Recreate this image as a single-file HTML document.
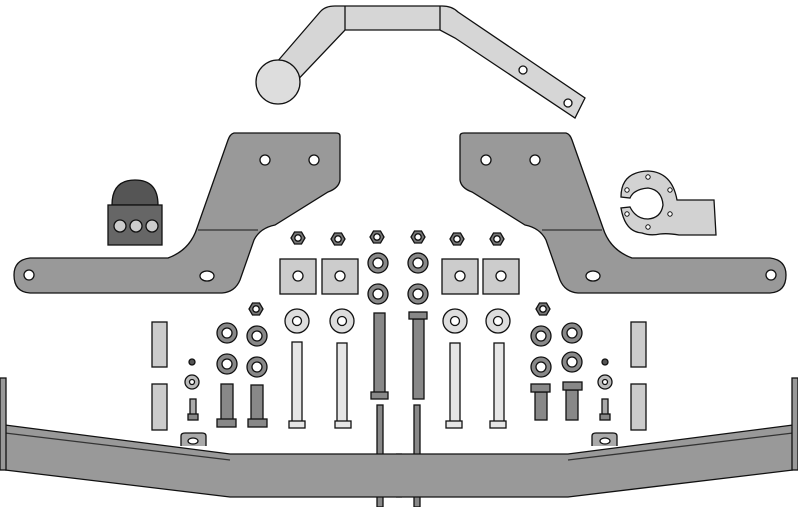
<!DOCTYPE html>
<html><head><style>html,body{margin:0;padding:0;background:#fff}svg{display:block}</style></head>
<body>
<svg width="798" height="507" viewBox="0 0 798 507" xmlns="http://www.w3.org/2000/svg" stroke="#111" stroke-width="1.3">
<defs>
<g id="br">
<path d="M460,136 Q460,133 464,133 L566,133 Q570,134 572,140 L603,228 Q610,250 632,258 L770,258 Q786,260 786,275 Q786,292 770,293 L578,293 Q565,292 560,280 L546,240 Q540,228 525,225 L472,192 Q461,188 460,180 Z" fill="#999"/>
<path d="M542,230 L602,230" stroke="#333" fill="none"/>
<circle cx="486" cy="160" r="5" fill="#fff"/><circle cx="535" cy="160" r="5" fill="#fff"/>
<ellipse cx="593" cy="276" rx="7" ry="5" fill="#fff"/><circle cx="771" cy="275" r="5" fill="#fff"/>
</g>
<g id="bar"><path d="M5,425 L230,454 L402,454 L402,497 L230,497 L5,470 Z" fill="#999" stroke="none"/><path d="M5,425 L230,454 L402,454 M402,497 L230,497 L5,470" fill="none"/><path d="M5,433 L230,460" stroke="#333" fill="none"/><rect x="0" y="378" width="6" height="92" fill="#999"/>
<path d="M181,446 L181,436 Q181,433 185,433 L202,433 Q206,433 206,436 L206,446" fill="#aaa"/><ellipse cx="193" cy="441" rx="5" ry="3" fill="#fff"/></g>
<g id="nut"><polygon points="-7,0 -3.5,-6 3.5,-6 7,0 3.5,6 -3.5,6" fill="#777"/><circle r="3.2" fill="#fff"/></g>
<g id="ring"><circle r="10" fill="#888"/><circle r="5" fill="#fff"/></g>
<g id="lw"><circle r="12" fill="#ddd"/><circle r="4.5" fill="#fff"/></g>
<g id="sq"><rect x="-18" y="-17" width="36" height="35" fill="#ccc"/><circle r="5" fill="#fff"/></g>
</defs>
<!-- threaded rods behind bar -->
<g fill="#888"><rect x="377" y="405" width="6" height="102"/><rect x="414" y="405" width="6" height="102"/></g>
<use href="#bar"/>
<use href="#bar" transform="translate(798,0) scale(-1,1)"/>
<use href="#br"/>
<use href="#br" transform="translate(800,0) scale(-1,1)"/>
<!-- tow arm -->
<path d="M270,70 L320,12 Q325,6 335,6 L442,6 Q452,6 458,12 L585,98 L575,118 L455,38 L440,30 L345,30 L290,88 Z" fill="#d6d6d6"/>
<line x1="345" y1="6" x2="345" y2="30"/><line x1="440" y1="6" x2="440" y2="30"/>
<circle cx="278" cy="82" r="22" fill="#ddd"/>
<circle cx="523" cy="70" r="4" fill="#fff"/><circle cx="568" cy="103" r="4" fill="#fff"/>
<!-- socket -->
<path d="M112,205 Q112,180 135,180 Q158,180 158,205 Z" fill="#555"/>
<rect x="108" y="205" width="54" height="40" fill="#666"/>
<circle cx="120" cy="226" r="6" fill="#ccc"/><circle cx="136" cy="226" r="6" fill="#ccc"/><circle cx="152" cy="226" r="6" fill="#ccc"/>
<!-- plate -->
<path d="M621,197 Q621,172 648,171 Q672,172 677,200 L714,200 L716,235 L679,235 Q668,233 660,234 Q650,236 642,233 Q625,232 621,208 L630,207 Q636,219 648,219 Q661,218 663,205 Q662,190 648,188 Q634,189 630,198 Z" fill="#d2d2d2"/>
<g fill="#fff" stroke-width="1"><circle cx="648" cy="177" r="2.2"/><circle cx="627" cy="190" r="2.2"/><circle cx="670" cy="190" r="2.2"/><circle cx="627" cy="214" r="2.2"/><circle cx="670" cy="214" r="2.2"/><circle cx="648" cy="227" r="2.2"/></g>
<!-- nuts row -->
<use href="#nut" x="298" y="238"/><use href="#nut" x="338" y="239"/><use href="#nut" x="377" y="237"/>
<use href="#nut" x="418" y="237"/><use href="#nut" x="457" y="239"/><use href="#nut" x="497" y="239"/>
<use href="#sq" x="298" y="276"/><use href="#sq" x="340" y="276"/><use href="#sq" x="460" y="276"/><use href="#sq" x="501" y="276"/>
<use href="#ring" x="378" y="263"/><use href="#ring" x="418" y="263"/><use href="#ring" x="378" y="294"/><use href="#ring" x="418" y="294"/>
<use href="#lw" x="297" y="321"/><use href="#lw" x="342" y="321"/><use href="#lw" x="455" y="321"/><use href="#lw" x="498" y="321"/>
<!-- long light bolts -->
<g fill="#e6e6e6">
<rect x="292" y="342" width="10" height="80"/><rect x="289" y="421" width="16" height="7"/>
<rect x="337" y="343" width="10" height="79"/><rect x="335" y="421" width="16" height="7"/>
<rect x="450" y="343" width="10" height="79"/><rect x="446" y="421" width="16" height="7"/>
<rect x="494" y="343" width="10" height="79"/><rect x="490" y="421" width="16" height="7"/>
</g>
<!-- dark long bolts -->
<g fill="#888">
<rect x="374" y="313" width="11" height="80"/><rect x="371" y="392" width="17" height="7"/>
<rect x="413" y="319" width="11" height="80"/><rect x="409" y="312" width="18" height="7"/>
</g>
<!-- side small parts -->
<g fill="#ccc"><rect x="152" y="322" width="15" height="45"/><rect x="152" y="384" width="15" height="46"/>
<rect x="631" y="322" width="15" height="45"/><rect x="631" y="384" width="15" height="46"/></g>
<circle cx="192" cy="362" r="3" fill="#555"/><circle cx="192" cy="382" r="7" fill="#bbb"/><circle cx="192" cy="382" r="2.5" fill="#fff"/>
<circle cx="605" cy="362" r="3" fill="#555"/><circle cx="605" cy="382" r="7" fill="#bbb"/><circle cx="605" cy="382" r="2.5" fill="#fff"/>
<rect x="190" y="399" width="6" height="16" fill="#aaa"/><rect x="188" y="414" width="10" height="6" fill="#888"/>
<rect x="602" y="399" width="6" height="16" fill="#aaa"/><rect x="600" y="414" width="10" height="6" fill="#888"/>
<use href="#nut" x="256" y="309"/><use href="#nut" x="543" y="309"/>
<use href="#ring" x="227" y="333"/><use href="#ring" x="257" y="336"/><use href="#ring" x="227" y="364"/><use href="#ring" x="257" y="367"/>
<use href="#ring" x="541" y="336"/><use href="#ring" x="572" y="333"/><use href="#ring" x="541" y="367"/><use href="#ring" x="572" y="362"/>
<g fill="#888">
<rect x="221" y="384" width="12" height="36"/><rect x="217" y="419" width="19" height="8"/>
<rect x="251" y="385" width="12" height="35"/><rect x="248" y="419" width="19" height="8"/>
<rect x="535" y="392" width="12" height="28"/><rect x="531" y="384" width="19" height="8"/>
<rect x="566" y="390" width="12" height="30"/><rect x="563" y="382" width="19" height="8"/>
</g>
</svg>
</body></html>
